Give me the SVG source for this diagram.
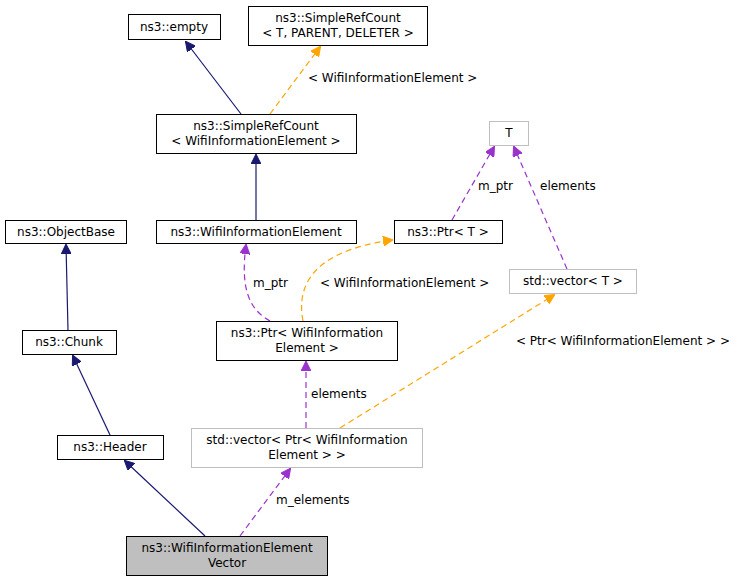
<svg xmlns="http://www.w3.org/2000/svg" width="747" height="581" viewBox="0 0 747 581">
<defs>
<marker id="an" markerWidth="10" markerHeight="10" refX="9" refY="5" orient="auto" markerUnits="userSpaceOnUse"><path d="M0,0 L10,5 L0,10 z" fill="#191970" stroke="#191970"/></marker>
<marker id="ao" markerWidth="10" markerHeight="10" refX="9" refY="5" orient="auto" markerUnits="userSpaceOnUse"><path d="M0,0 L10,5 L0,10 z" fill="#ffa500" stroke="#ffa500"/></marker>
<marker id="ap" markerWidth="10" markerHeight="10" refX="9" refY="5" orient="auto" markerUnits="userSpaceOnUse"><path d="M0,0 L10,5 L0,10 z" fill="#9a32cd" stroke="#9a32cd"/></marker>
</defs>
<style>
text{font-family:"DejaVu Sans",sans-serif;font-size:12px;fill:#000}
.n rect{fill:#fff;stroke:#000;stroke-width:1}
.g rect{fill:#fff;stroke:#bfbfbf;stroke-width:1}
.m{text-anchor:middle}
.e path{fill:none;stroke-width:1.2}
.nv{stroke:#191970;marker-end:url(#an)}
.or{stroke:#ffa500;stroke-dasharray:6,4;marker-end:url(#ao)}
.pu{stroke:#9a32cd;stroke-dasharray:6,4;marker-end:url(#ap)}
</style>
<rect width="747" height="581" fill="#fff"/>
<g class="e" id="edges">
<path class="nv" d="M241,114 L186,42"/>
<path class="or" d="M270,114 L320,47"/>
<path class="nv" d="M256,220 L256,155"/>
<path class="nv" d="M68,330 L66,245"/>
<path class="nv" d="M110,435 L73,356"/>
<path class="nv" d="M205,536 L125,461"/>
<path class="pu" d="M452,220 L494,147"/>
<path class="pu" d="M567,269 L514,147"/>
<path class="pu" d="M270,321 C250,310 240,290 246,245"/>
<path class="or" d="M303,321 C295,280 320,250 392,240"/>
<path class="pu" d="M306,428 L306,362"/>
<path class="or" d="M340,428 L554,295"/>
<path class="pu" d="M240,536 L290,469"/>
<text x="308" y="82">&lt; WifiInformationElement &gt;</text>
<text x="478" y="190">m_ptr</text>
<text x="540" y="190">elements</text>
<text x="253" y="287">m_ptr</text>
<text x="320" y="287">&lt; WifiInformationElement &gt;</text>
<text x="311" y="398">elements</text>
<text x="516" y="345">&lt; Ptr&lt; WifiInformationElement &gt; &gt;</text>
<text x="276" y="504">m_elements</text>
</g>
<g id="n1" class="n"><rect x="128.5" y="14.5" width="92" height="25"/><text class="m" x="174" y="31">ns3::empty</text></g>
<g id="n2" class="n"><rect x="248.5" y="6.5" width="179" height="39"/><text class="m" x="338" y="22">ns3::SimpleRefCount</text><text class="m" x="338" y="37">&lt; T, PARENT, DELETER &gt;</text></g>
<g id="n3" class="n"><rect x="156.5" y="114.5" width="200" height="39"/><text class="m" x="256" y="130">ns3::SimpleRefCount</text><text class="m" x="256" y="145">&lt; WifiInformationElement &gt;</text></g>
<g id="n4" class="g"><rect x="489.5" y="121.5" width="39" height="24"/><text class="m" x="509" y="137">T</text></g>
<g id="n5" class="n"><rect x="5.5" y="220.5" width="121" height="23"/><text class="m" x="66" y="236">ns3::ObjectBase</text></g>
<g id="n6" class="n"><rect x="156.5" y="220.5" width="200" height="23"/><text class="m" x="256" y="236">ns3::WifiInformationElement</text></g>
<g id="n7" class="n"><rect x="394.5" y="220.5" width="108" height="23"/><text class="m" x="448" y="236">ns3::Ptr&lt; T &gt;</text></g>
<g id="n8" class="g"><rect x="509.5" y="269.5" width="127" height="24"/><text class="m" x="573" y="285">std::vector&lt; T &gt;</text></g>
<g id="n9" class="n"><rect x="22.5" y="330.5" width="94" height="24"/><text class="m" x="69" y="346">ns3::Chunk</text></g>
<g id="n10" class="n"><rect x="216.5" y="321.5" width="181" height="39"/><text class="m" x="307" y="337">ns3::Ptr&lt; WifiInformation</text><text class="m" x="307" y="352">Element &gt;</text></g>
<g id="n11" class="n"><rect x="57.5" y="435.5" width="106" height="24"/><text class="m" x="110" y="451">ns3::Header</text></g>
<g id="n12" class="g"><rect x="191.5" y="428.5" width="231" height="39"/><text class="m" x="307" y="444">std::vector&lt; Ptr&lt; WifiInformation</text><text class="m" x="307" y="459">Element &gt; &gt;</text></g>
<g id="n13" class="n"><rect x="126.5" y="536.5" width="201" height="39" style="fill:#bfbfbf"/><text class="m" x="227" y="552">ns3::WifiInformationElement</text><text class="m" x="227" y="567">Vector</text></g>
</svg>
